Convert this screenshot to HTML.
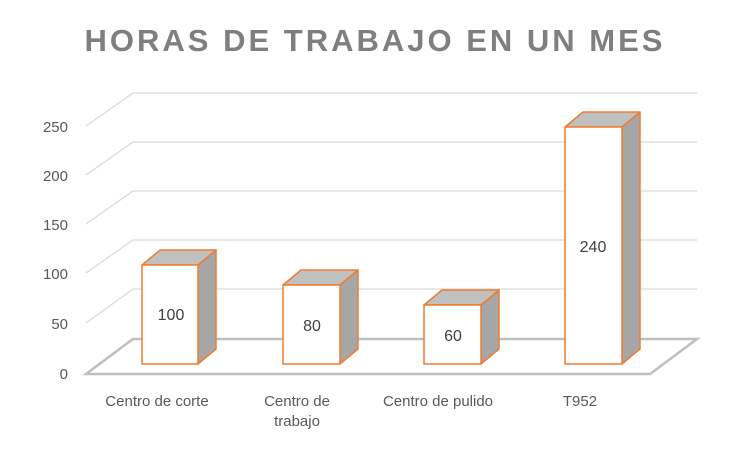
<!DOCTYPE html>
<html><head><style>body{margin:0;background:#fff}</style></head><body>
<svg width="750" height="449" xmlns="http://www.w3.org/2000/svg" font-family="Liberation Sans, sans-serif">
<rect width="750" height="449" fill="#fff"/>
<text x="375" y="51" text-anchor="middle" font-size="31" font-weight="bold" fill="#7f7f7f" letter-spacing="3">HORAS DE TRABAJO EN UN MES</text>
<g stroke="#d9d9d9" stroke-width="1.3" fill="none">
<polyline points="86,323 133,289 697,289"/>
<polyline points="86,273 133,240 697,240"/>
<polyline points="86,224 133,191 697,191"/>
<polyline points="86,175 133,142 697,142"/>
<polyline points="86,126 133,93 697,93"/>
</g>
<polygon points="86,374 133,339 697,339 650,374" fill="none" stroke="#bfbfbf" stroke-width="2.5"/>
<g font-size="15" fill="#595959" text-anchor="end">
<text x="68" y="379">0</text><text x="68" y="329">50</text><text x="68" y="279">100</text>
<text x="68" y="230">150</text><text x="68" y="181">200</text><text x="68" y="132">250</text>
</g>
<g stroke="#ed7d31" stroke-width="1.5" stroke-linejoin="round">
<g><polygon points="198,265 216,250 216,349 198,364" fill="#a6a6a6"/><polygon points="142,265 160,250 216,250 198,265" fill="#c0c0c0"/><rect x="142" y="265" width="56" height="99" fill="#fff"/></g>
<g><polygon points="340,285 358,270 358,349 340,364" fill="#a6a6a6"/><polygon points="283,285 301,270 358,270 340,285" fill="#c0c0c0"/><rect x="283" y="285" width="57" height="79" fill="#fff"/></g>
<g><polygon points="481,305 499,290 499,349 481,364" fill="#a6a6a6"/><polygon points="424,305 442,290 499,290 481,305" fill="#c0c0c0"/><rect x="424" y="305" width="57" height="59" fill="#fff"/></g>
<g><polygon points="622,127 640,112 640,349 622,364" fill="#a6a6a6"/><polygon points="565,127 583,112 640,112 622,127" fill="#c0c0c0"/><rect x="565" y="127" width="57" height="237" fill="#fff"/></g>
</g>
<g font-size="16" fill="#404040" text-anchor="middle">
<text x="171" y="320">100</text><text x="312" y="331">80</text><text x="453" y="341">60</text><text x="593" y="252">240</text>
</g>
<g font-size="15" fill="#595959" text-anchor="middle">
<text x="157" y="406">Centro de corte</text>
<text x="297" y="406">Centro de</text><text x="297" y="426">trabajo</text>
<text x="438" y="406">Centro de pulido</text>
<text x="580" y="406">T952</text>
</g>
</svg>
</body></html>
